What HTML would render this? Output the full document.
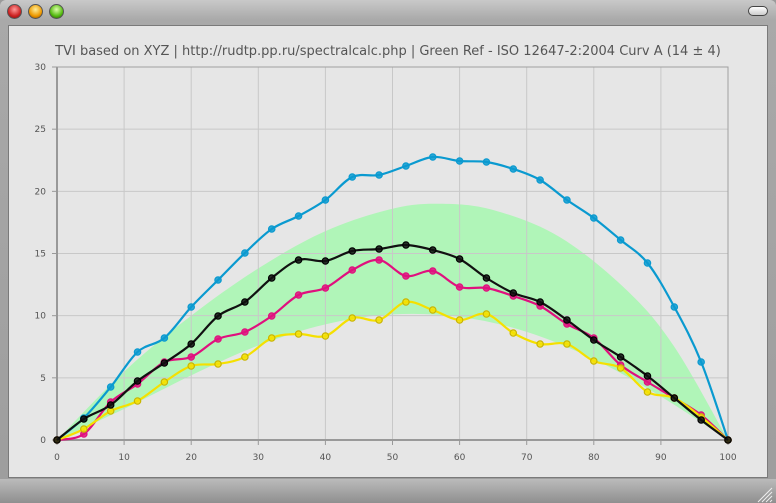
<!DOCTYPE html>
<html><head><meta charset="utf-8"><style>
body{margin:0;width:776px;height:503px;overflow:hidden;background:#9a9a9a;font-family:"DejaVu Sans","Liberation Sans",sans-serif}
#win{position:absolute;left:0;top:0;width:776px;height:503px;background:linear-gradient(#c9c9c9,#a9a9a9 20px,#9d9d9d);border-radius:6px 6px 0 0}
#content{position:absolute;left:8px;top:25px;width:760px;height:453px;background:#e6e6e6;border:1px solid #7a7a7a;box-sizing:border-box}
.btn{position:absolute;top:4px;width:13px;height:13px;border-radius:50%;border:1px solid #555}
#bot{position:absolute;left:0;top:479px;width:776px;height:24px;background:linear-gradient(#bbb,#8f8f8f)}
</style></head><body>
<div id="win">
<div class="btn" style="left:7px;background:radial-gradient(circle at 50% 35%,#f99,#c22 60%,#711)"></div>
<div class="btn" style="left:28px;background:radial-gradient(circle at 50% 35%,#fe9,#e90 60%,#840)"></div>
<div class="btn" style="left:49px;background:radial-gradient(circle at 50% 35%,#dfa,#5b1 60%,#250)"></div>
<div style="position:absolute;left:748px;top:6px;width:18px;height:8px;border:1px solid #444;border-radius:5px;background:linear-gradient(#fff,#ccc)"></div>
<div id="content"></div>
<div id="bot"></div>
<svg width="776" height="503" style="position:absolute;left:0;top:0" id="s"></svg>
</div>
<script>
const X=x=>57+x*6.71, Y=v=>440-v*12.433;
const px=[0,4,8,12,16,20,24,28,32,36,40,44,48,52,56,60,64,68,72,76,80,84,88,92,96,100];
const S={
'#0a9ad0':[440,418,387,352,338,307,280,253,229,216,200,177,175,166,157,161,162,169,180,200,218,240,263,307,362,440],
'#e0107e':[440,434,402,384,362,357,339,332,316,295,288,270,260,276,271,287,288,296,306,324,338,365,382,398,415,440],
'#f5e000':[440,429,411,401,382,366,364,357,338,334,336,318,320,302,310,320,314,333,344,344,361,368,392,398,417,440],
'#111111':[440,419,405,381,363,344,316,302,278,260,261,251,249,245,250,259,278,293,302,320,340,357,376,398,420,440]};
function cr(p){let d='M'+p[0][0]+','+p[0][1];for(let i=0;i<p.length-1;i++){const a=p[i-1]||p[i],b=p[i],c=p[i+1],e=p[i+2]||c;d+=`C${b[0]+(c[0]-a[0])/6},${b[1]+(c[1]-a[1])/6} ${c[0]-(e[0]-b[0])/6},${c[1]-(e[1]-b[1])/6} ${c[0]},${c[1]}`;}return d;}
let h='';
const up=[[0,0],[10,5.5],[20,10],[30,13.8],[40,16.8],[50,18.6],[57,19],[65,18.5],[75,16.3],[85,12],[92,7.5],[100,0]].map(q=>[X(q[0]),Y(q[1])]);
const lo=[[0,0],[10,2.5],[20,5.2],[30,7.6],[40,9.3],[50,10.1],[60,9.9],[70,8.7],[80,6.5],[90,3.5],[100,0]].map(q=>[X(q[0]),Y(q[1])]);
h+=`<path d="${cr(up)} L${cr(lo.slice().reverse()).slice(1)} Z" fill="#b0f5b8"/>`;
for(let i=1;i<10;i++)h+=`<line x1="${X(i*10)}" y1="67" x2="${X(i*10)}" y2="440" stroke="#c8c8c8"/>`;
for(let i=1;i<6;i++)h+=`<line x1="57" y1="${Y(i*5)}" x2="728" y2="${Y(i*5)}" stroke="#c8c8c8"/>`;
h+=`<rect x="57" y="67" width="671" height="373" fill="none" stroke="#a0a0a0" stroke-width="1"/>`;
h+=`<line x1="57" y1="67" x2="57" y2="441" stroke="#999" stroke-width="2"/><line x1="56" y1="440" x2="728" y2="440" stroke="#999" stroke-width="2"/>`;
for(let i=0;i<=10;i++){h+=`<line x1="${X(i*10)}" y1="440" x2="${X(i*10)}" y2="445" stroke="#999"/><text x="${X(i*10)}" y="460" font-size="9" fill="#555" text-anchor="middle">${i*10}</text>`;}
for(let i=0;i<=6;i++){h+=`<line x1="52" y1="${Y(i*5)}" x2="57" y2="${Y(i*5)}" stroke="#999"/><text x="46" y="${Y(i*5)+3}" font-size="9" fill="#555" text-anchor="end">${i*5}</text>`;}
for(const c in S){const p=px.map((x,i)=>[X(x),S[c][i]]);h+=`<path d="${cr(p)}" fill="none" stroke="${c}" stroke-width="2.2"/>`;
const dc=c=='#f5e000'?'#c9b400':c=='#111111'?'#000':c;
p.forEach(q=>h+=`<circle cx="${q[0]}" cy="${q[1]}" r="3.2" fill="${c}" stroke="${dc}" stroke-width="1.2" fill-opacity="0.85"/>`);}
h+=`<text x="388" y="55" font-size="13" fill="#555" text-anchor="middle">TVI based on XYZ | http://rudtp.pp.ru/spectralcalc.php | Green Ref - ISO 12647-2:2004 Curv A (14 ± 4)</text>`;
for(let i=0;i<4;i++)h+=`<line x1="${758+i*4}" y1="502" x2="${772}" y2="${488+i*4}" stroke="#eee" stroke-width="1"/>`;
document.getElementById('s').innerHTML=h;
</script>
</body></html>
